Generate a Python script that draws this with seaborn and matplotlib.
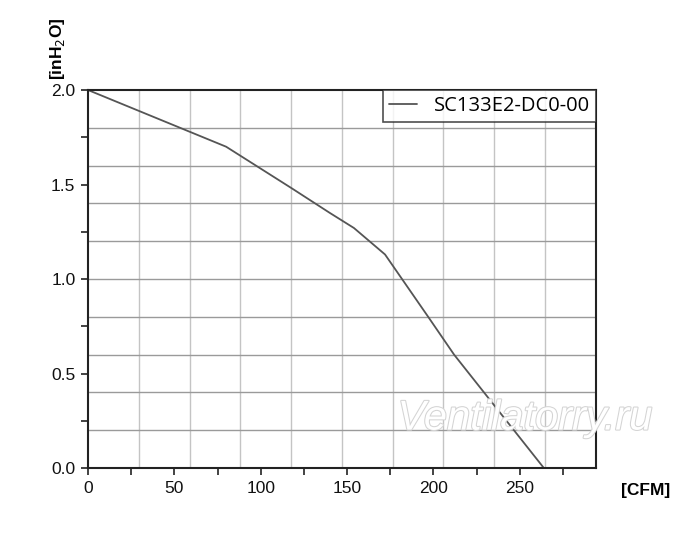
import numpy as np
import pandas as pd
import matplotlib
matplotlib.use("Agg")
import matplotlib.pyplot as plt
import matplotlib.patheffects as pe
import seaborn as sns

# fan curve
flow_cfm = [0, 80, 118, 140, 154, 172, 197, 212, 264]
pressure_inh2o = [2.0, 1.70, 1.48, 1.35, 1.27, 1.13, 0.80, 0.60, 0.0]
model = "SC133E2-DC0-00"

x_max = 294
y_max = 2.0

sns.set_style("white")
plt.rcParams['font.family'] = ['Liberation Sans', 'DejaVu Sans']
plt.rcParams['text.color'] = 'black'
plt.rcParams['xtick.color'] = 'black'
plt.rcParams['ytick.color'] = 'black'

df = pd.DataFrame({"flow": flow_cfm, "pressure": pressure_inh2o, "model": model})

fig = plt.figure(figsize=(7, 5.38), dpi=100)
ax = fig.add_axes([0.1257, 0.130, 0.7253, 0.7027])

# chart grid: 10 x 10 cells, independent of the tick marks
for gx in np.linspace(0, x_max, 11)[1:-1]:
    ax.axvline(gx, color="#c4c4c4", lw=1.0, zorder=0)
for gy in np.linspace(0, y_max, 11)[1:-1]:
    ax.axhline(gy, color="#9a9a9a", lw=1.0, zorder=0)

sns.lineplot(data=df, x="flow", y="pressure", hue="model",
             palette=["#555555"], lw=1.3, ax=ax)

ax.set_xlim(0, x_max)
ax.set_ylim(0, y_max)
ax.set_xticks([0, 50, 100, 150, 200, 250])
ax.set_xticks([25, 75, 125, 175, 225, 275], minor=True)
ax.set_yticks([0.0, 0.5, 1.0, 1.5, 2.0])
ax.set_yticks([0.25, 0.75, 1.25, 1.75], minor=True)
ax.set_yticklabels(["0.0", "0.5", "1.0", "1.5", "2.0"])
ax.tick_params(axis="both", which="both", direction="out", length=5,
               width=1.2, color="#222222", labelsize=12.5, pad=4,
               bottom=True, left=True, labelcolor="#111111")
for s in ax.spines.values():
    s.set_color("#222222")
    s.set_linewidth(1.5)

ax.set_xlabel("")
ax.set_ylabel("")
fig.text(0.957, 0.088, "[CFM]", fontsize=12.5, fontweight="bold",
         ha="right", va="center")
fig.text(0.082, 0.852, "[inH$_2$O]", fontsize=12.5, fontweight="bold",
         rotation=90, ha="center", va="bottom")

leg = ax.legend(loc="upper right", borderaxespad=0, frameon=True,
                fancybox=False, handlelength=1.4,
                handletextpad=0.8, borderpad=0.3,
                prop={"family": "Open Sans", "size": 14.5})
leg.get_frame().set_edgecolor("#222222")
leg.get_frame().set_linewidth(1.2)

fig.text(0.568, 0.222, "Ventilatorry.ru", fontsize=30, style="italic",
         color="white", ha="left", va="center", zorder=10,
         path_effects=[pe.withStroke(linewidth=1.5, foreground="#d4d4d4")])

fig.savefig("out.png", dpi=100, facecolor="white")
